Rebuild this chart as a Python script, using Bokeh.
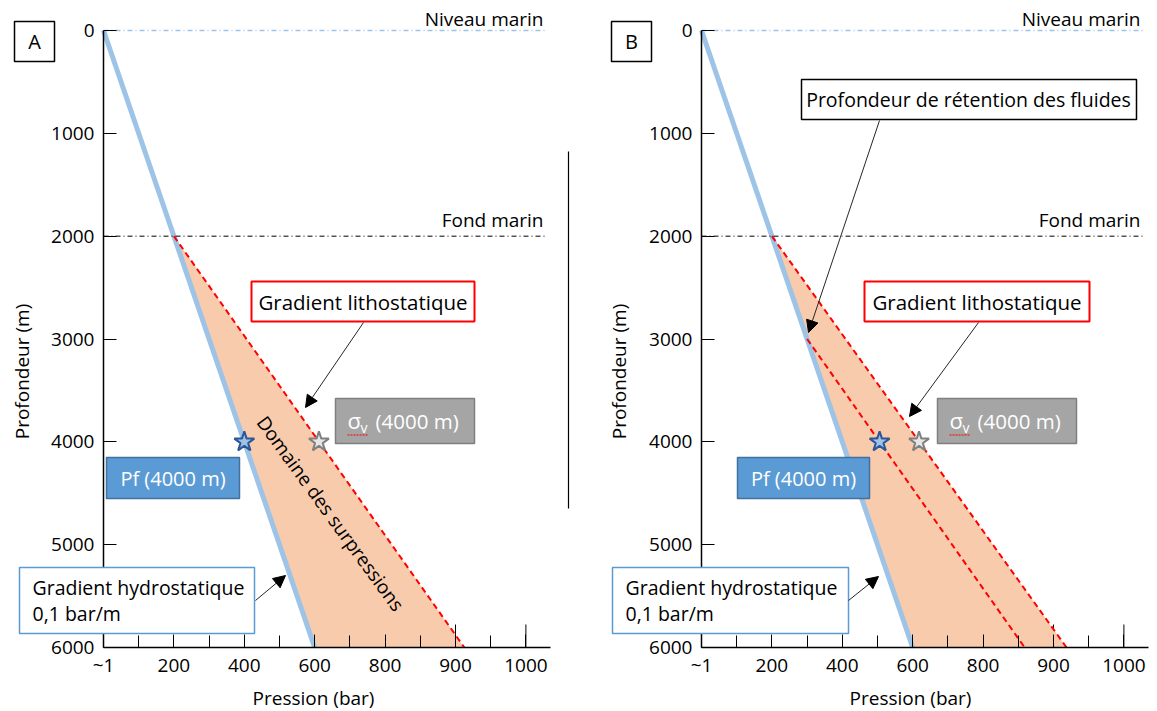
import math
from bokeh.plotting import figure
from bokeh.models import Range1d, FixedTicker, Arrow, NormalHead
from bokeh.layouts import row
from bokeh.core.properties import value
from bokeh.embed import file_html
from bokeh.resources import INLINE

# ---------------- data ----------------
depth_ticks = [0, 1000, 2000, 3000, 4000, 5000, 6000]
pressure_tick_pos = [0, 200, 400, 600, 800, 1000, 1200]
pressure_tick_labels = ["~1", "200", "400", "600", "800", "900", "1000"]
pressure_minor_pos = [100, 300, 500, 700, 900, 1100]
pressure_long_ticks = [600, 1000, 1200]

sea_level_depth = 0
seafloor_depth = 2000
max_depth = 6000

hydro_depth = [0, 6000]
hydro_pressure = [0, 600]

litho_depth = [2000, 6000]
litho_pressure_a = [200, 1025]
litho_pressure_b = [200, 1037]

retention_depth = [3000, 6000]
retention_pressure = [300, 918]

star_depth = 4000
pf_a, sigma_a = 400, 612
pf_b, sigma_b = 506, 618

# ---------------- geometry ----------------
H = 711
KX = 0.352          # px per pressure unit
KY = 617 / 6000     # px per metre
AY = 30             # px of sea level from top
AXIS_END = 1270
REF_LINE_END = 1256
LONG_TICK_PX = 23

FONT = value("Open Sans")
BLUE_LINE = "#9dc3e6"
FILL = "#f8cbad"


class Frame:
    def __init__(self, offset, width, axis_px):
        self.off = offset
        self.w = width
        self.ax = axis_px

    def x(self, px):
        return (px - self.off - self.ax) / KX

    def y(self, py):
        return (py - AY) / KY


def text(p, x, y, s, size="20px", align="center", color="black", angle=0.0):
    p.text(x=[x], y=[y], text=[s], text_font=FONT, text_font_size=size,
           text_align=align, text_baseline="middle", text_color=color,
           angle=angle, level="annotation")


def box(p, fr, l, t, r, b, fill, line, lw=1.5):
    p.quad(left=[fr.x(l)], right=[fr.x(r)], top=[fr.y(t)], bottom=[fr.y(b)],
           fill_color=fill, line_color=line, line_width=lw, level="annotation")


def arrow(p, fr, x0, y0, x1, y1):
    p.add_layout(Arrow(x_start=fr.x(x0), y_start=fr.y(y0), x_end=fr.x(x1), y_end=fr.y(y1),
                       line_color="#262626", line_width=1,
                       end=NormalHead(size=12, fill_color="black", line_color="black", line_width=1)))


def make_panel(fr):
    p = figure(width=fr.w, height=H,
               x_range=Range1d(-fr.ax / KX, (fr.w - fr.ax) / KX),
               y_range=Range1d((H - AY) / KY, -AY / KY),
               output_backend="svg", toolbar_location=None,
               min_border=0, outline_line_color=None)
    p.grid.visible = False

    xa = p.xaxis[0]
    xa.fixed_location = max_depth
    xa.bounds = (0, AXIS_END)
    xa.ticker = FixedTicker(ticks=pressure_tick_pos, minor_ticks=pressure_minor_pos)
    xa.major_label_overrides = {k: v for k, v in zip(pressure_tick_pos, pressure_tick_labels)}
    xa.major_tick_in = 13
    xa.major_tick_out = 0
    xa.minor_tick_in = 12
    xa.minor_tick_out = 0
    xa.axis_line_width = 1.5
    xa.major_label_standoff = 4
    xa.major_label_text_font = "Open Sans"
    xa.major_label_text_font_size = "19px"
    xa.major_label_text_color = "black"

    # taller marks at the upper end of the pressure scale
    n = len(pressure_long_ticks)
    p.segment(x0=pressure_long_ticks, y0=[max_depth] * n,
              x1=pressure_long_ticks, y1=[max_depth - LONG_TICK_PX / KY] * n,
              line_color="black", line_width=1)

    ya = p.yaxis[0]
    ya.fixed_location = 0
    ya.bounds = (0, max_depth)
    ya.ticker = FixedTicker(ticks=depth_ticks, minor_ticks=[])
    ya.major_tick_in = 13
    ya.major_tick_out = 0
    ya.axis_line_width = 1.5
    ya.major_label_standoff = 9
    ya.major_label_text_font = "Open Sans"
    ya.major_label_text_font_size = "19px"
    ya.major_label_text_color = "black"
    return p


def draw_common(p, litho_p):
    # overpressure domain between hydrostatic and lithostatic gradients
    p.patch(x=[litho_p[0], litho_p[1], hydro_pressure[1]],
            y=[litho_depth[0], litho_depth[1], hydro_depth[1]],
            fill_color=FILL, line_color=None)
    p.line(hydro_pressure, hydro_depth, line_color=BLUE_LINE, line_width=5)
    p.line(litho_p, litho_depth, line_color="#ff0000", line_width=2, line_dash="6 4")

    # sea level and seafloor references
    p.line([0, REF_LINE_END], [sea_level_depth, sea_level_depth], line_color=BLUE_LINE,
           line_width=1.3, line_dash="5 3 1 3")
    p.line([0, REF_LINE_END], [seafloor_depth, seafloor_depth], line_color="black",
           line_width=1, line_dash="5 3 1 3")


def draw_stars(p, pf, sigma):
    p.scatter([pf], [star_depth], marker="star", size=21, fill_color="#9dc3e6",
              line_color="#2e5597", line_width=2)
    p.scatter([sigma], [star_depth], marker="star", size=21, fill_color="#e7e6e6",
              line_color="#808080", line_width=2)


def draw_labels(p, fr, o, letter, litho_box, litho_arrow, sigma_box, pf_box,
                hydro_box, hydro_arrow):
    # panel letter
    box(p, fr, 14 + o, 21, 54 + o, 61, "white", "black", 1.5)
    text(p, fr.x(34 + o), fr.y(41), letter)

    text(p, fr.x(543 + o), fr.y(18), "Niveau marin", size="19px", align="right")
    text(p, fr.x(543 + o), fr.y(219), "Fond marin", size="19px", align="right")

    # lithostatic callout
    l, t, r, b = litho_box
    box(p, fr, l, t, r, b, "white", "#ff0000", 2)
    text(p, fr.x((l + r) / 2), fr.y((t + b) / 2), "Gradient lithostatique", size="20.5px")
    arrow(p, fr, *litho_arrow)

    # vertical stress callout
    l, t, r, b = sigma_box
    box(p, fr, l, t, r, b, "#a5a5a5", "#7f7f7f", 1.5)
    cy = (t + b) / 2
    text(p, fr.x(l + 12), fr.y(cy - 1), "σ", size="22px", align="left", color="white")
    text(p, fr.x(l + 25), fr.y(cy + 6), "v", size="14px", align="left", color="white")
    text(p, fr.x(l + 40), fr.y(cy), "(4000 m)", size="20.5px", align="left", color="white")
    p.line([fr.x(l + 12), fr.x(l + 33)], [fr.y(cy + 14), fr.y(cy + 14)],
           line_color="#ff0000", line_width=1.2, line_dash="2 1", level="annotation")

    # fluid pressure callout
    l, t, r, b = pf_box
    box(p, fr, l, t, r, b, "#5b9bd5", "#41719c", 1.5)
    text(p, fr.x((l + r) / 2), fr.y((t + b) / 2), "Pf (4000 m)", color="white")

    # hydrostatic callout
    l, t, r, b = hydro_box
    box(p, fr, l, t, r, b, "white", "#5b9bd5", 1.5)
    text(p, fr.x(l + 13), fr.y(t + 20), "Gradient hydrostatique", size="19.5px", align="left")
    text(p, fr.x(l + 13), fr.y(t + 46), "0,1 bar/m", size="19.5px", align="left")
    arrow(p, fr, *hydro_arrow)

    # axis titles
    text(p, fr.x(21 + o), fr.y(371), "Profondeur (m)", size="19px", angle=math.pi / 2)
    text(p, fr.x(313 + o), fr.y(697), "Pression (bar)", size="19px")


# ---------------- panel A ----------------
fa = Frame(0, 578, 103)
pa = make_panel(fa)
draw_common(pa, litho_pressure_a)
draw_stars(pa, pf_a, sigma_a)
text(pa, fa.x(330), fa.y(513), "Domaine des surpressions", size="19px", angle=-math.radians(54))
pa.line([fa.x(568), fa.x(568)], [fa.y(151), fa.y(508)], line_color="black", line_width=1.2)
draw_labels(pa, fa, 0, "A",
            (251, 281, 474, 321), (363, 322, 305, 407),
            (335, 398, 474, 443), (106, 457, 239, 498),
            (19, 567, 254, 633), (255, 600, 285, 575))

# ---------------- panel B ----------------
fb = Frame(578, 579, 123)
pb = make_panel(fb)
draw_common(pb, litho_pressure_b)
pb.line(retention_pressure, retention_depth, line_color="#ff0000", line_width=2, line_dash="6 4")
draw_stars(pb, pf_b, sigma_b)
box(pb, fb, 801, 79, 1136, 119, "white", "black", 1.5)
text(pb, fb.x(968), fb.y(99), "Profondeur de rétention des fluides", size="19.5px")
arrow(pb, fb, 879, 120, 808, 332)
draw_labels(pb, fb, 597, "B",
            (864, 281, 1089, 321), (978, 322, 909, 416),
            (937, 398, 1076, 443), (737, 457, 869, 498),
            (612, 567, 848, 633), (848, 600, 878, 576))

layout = row(pa, pb)
open("out.html", "w").write(file_html(layout, INLINE))
